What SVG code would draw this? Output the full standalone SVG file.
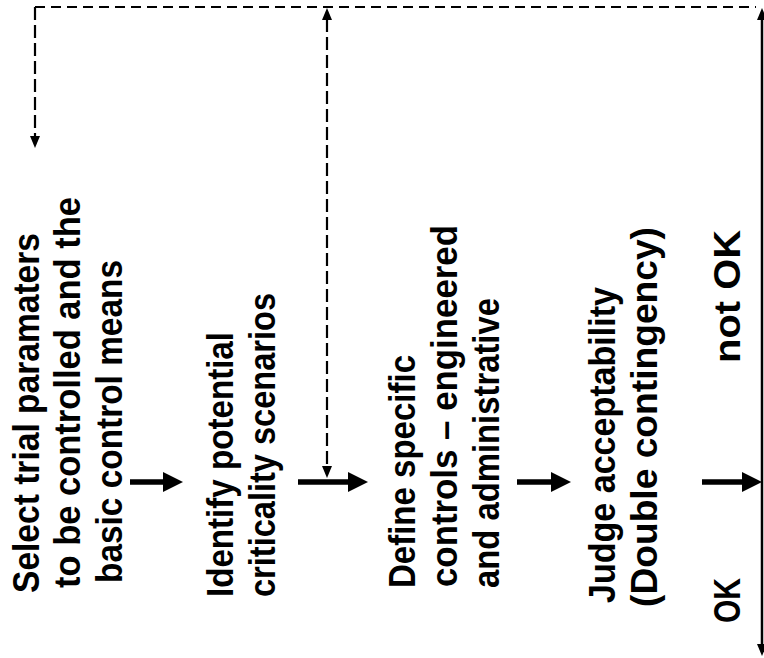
<svg xmlns="http://www.w3.org/2000/svg" width="764" height="658" viewBox="0 0 764 658">
  <style>
    .t { font-family: "Liberation Sans", Arial, Helvetica, sans-serif; font-weight: bold; font-size: 37px; fill: #000; }
    .thick { stroke: #000; stroke-width: 5.5; fill: none; }
    .dash { stroke: #000; stroke-width: 2.2; fill: none; stroke-dasharray: 10 6; }
    .vdash { stroke: #000; stroke-width: 2.2; fill: none; stroke-dasharray: 13 5; }
    .solid { stroke: #000; stroke-width: 2.5; fill: none; }
  </style>
  <defs>
    <marker id="bigHead" viewBox="0 0 20 20" refX="1" refY="10" markerWidth="20" markerHeight="20" markerUnits="userSpaceOnUse" orient="auto">
      <path d="M0,0 L20,10 L0,20 z" fill="#000"/>
    </marker>
    <marker id="smallHead" viewBox="0 0 12 10" refX="1" refY="5" markerWidth="12" markerHeight="10" markerUnits="userSpaceOnUse" orient="auto-start-reverse">
      <path d="M0,0 L12,5 L0,10 z" fill="#000"/>
    </marker>
  </defs>
  <rect width="764" height="658" fill="#fff"/>

  <g id="connectors">
    <!-- feedback dashed loop -->
    <line class="dash" x1="35" y1="7" x2="756" y2="7"/>
    <line class="vdash" x1="35" y1="7" x2="35" y2="137" marker-end="url(#smallHead)"/>
    <line class="vdash" x1="327" y1="19" x2="327" y2="467" marker-start="url(#smallHead)" marker-end="url(#smallHead)"/>
    <!-- right decision line -->
    <line class="solid" x1="762" y1="19" x2="762" y2="645" marker-start="url(#smallHead)" marker-end="url(#smallHead)"/>
    <!-- forward arrows -->
    <line class="thick" x1="130" y1="482" x2="164" y2="482" marker-end="url(#bigHead)"/>
    <line class="thick" x1="298" y1="482" x2="349" y2="482" marker-end="url(#bigHead)"/>
    <line class="thick" x1="517" y1="482" x2="552" y2="482" marker-end="url(#bigHead)"/>
    <line class="thick" x1="702" y1="482" x2="743" y2="482" marker-end="url(#bigHead)"/>
  </g>

  <g id="n-select">
    <text class="t" transform="rotate(-90)" x="-593" y="39" textLength="360" lengthAdjust="spacingAndGlyphs">Select trial paramaters</text>
    <text class="t" transform="rotate(-90)" x="-588" y="80" textLength="391" lengthAdjust="spacingAndGlyphs">to be controlled and the</text>
    <text class="t" transform="rotate(-90)" x="-583" y="122" textLength="323" lengthAdjust="spacingAndGlyphs">basic control means</text>
  </g>

  <g id="n-identify">
    <text class="t" transform="rotate(-90)" x="-597" y="233" textLength="265" lengthAdjust="spacingAndGlyphs">Identify potential</text>
    <text class="t" transform="rotate(-90)" x="-597" y="275" textLength="304" lengthAdjust="spacingAndGlyphs">criticality scenarios</text>
  </g>

  <g id="n-define">
    <text class="t" transform="rotate(-90)" x="-588" y="415" textLength="233" lengthAdjust="spacingAndGlyphs">Define specific</text>
    <text class="t" transform="rotate(-90)" x="-587" y="457" textLength="362" lengthAdjust="spacingAndGlyphs">controls – engineered</text>
    <text class="t" transform="rotate(-90)" x="-588" y="499" textLength="290" lengthAdjust="spacingAndGlyphs">and administrative</text>
  </g>

  <g id="n-judge">
    <text class="t" transform="rotate(-90)" x="-603" y="615" textLength="316" lengthAdjust="spacingAndGlyphs">Judge acceptability</text>
    <text class="t" transform="rotate(-90)" x="-607" y="657" textLength="380" lengthAdjust="spacingAndGlyphs">(Double contingency)</text>
  </g>

  <g id="n-ok">
    <text class="t" transform="rotate(-90)" x="-623" y="740" textLength="45" lengthAdjust="spacingAndGlyphs">OK</text>
  </g>

  <g id="n-notok">
    <text class="t" transform="rotate(-90)" x="-363" y="740" textLength="133" lengthAdjust="spacingAndGlyphs">not OK</text>
  </g>
</svg>
